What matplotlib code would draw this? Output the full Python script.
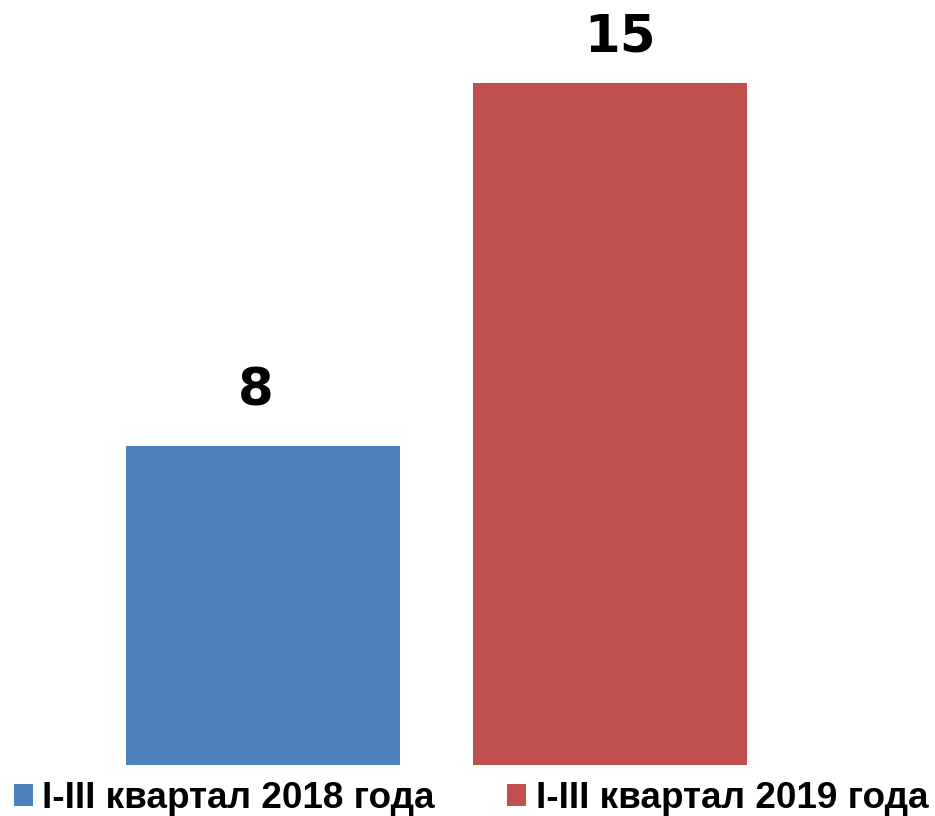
import matplotlib.pyplot as plt

categories = ["I-III квартал 2018 года", "I-III квартал 2019 года"]
values = [8, 15]
colors = ["#4F81BD", "#C0504D"]
# label nudges (points) to sit where the original puts them
label_offsets = [(-5, 21), (7, 15)]

fig = plt.figure(figsize=(9.35, 8.16), dpi=100)
ax = fig.add_axes([0, 0.0625, 1, 0.9375])

positions = list(range(len(values)))
bars = ax.bar(positions, values, width=0.79, color=colors, label=categories)

for rect, v, off in zip(bars, values, label_offsets):
    ax.annotate(
        str(v),
        xy=(rect.get_x() + rect.get_width() / 2, rect.get_height()),
        xytext=off,
        textcoords="offset points",
        ha="center",
        va="bottom",
        fontsize=37,
        fontweight="bold",
        family=["Liberation Sans Narrow", "DejaVu Sans"],
        annotation_clip=False,
    )

ax.set_xlim(-0.758, 1.937)
ax.set_ylim(1.85, 16.6)
ax.axis("off")

fig.legend(
    handles=list(bars),
    labels=categories,
    loc="lower left",
    bbox_to_anchor=(14 / 935, 0.0),
    ncol=2,
    frameon=False,
    prop={"family": ["Liberation Sans", "DejaVu Sans"], "weight": "bold", "size": 26.6},
    handlelength=0.52,
    handleheight=0.52,
    handletextpad=0.25,
    columnspacing=1.95,
    borderpad=0,
    borderaxespad=0,
)

fig.savefig("out.png", dpi=100)
